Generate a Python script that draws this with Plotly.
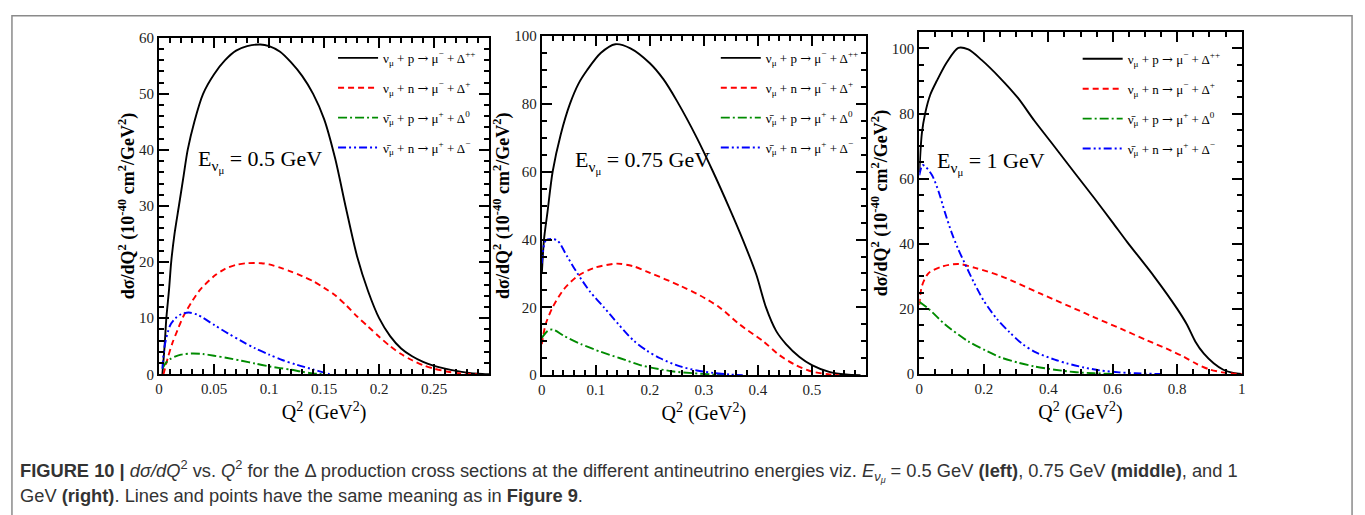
import numpy as np
import plotly.graph_objects as go

# ---------------- data: dσ/dQ² (10^-40 cm²/GeV²) vs Q² (GeV²) ----------------
# E = 0.5 GeV
q_pp_05 = [0.003, 0.005, 0.0066, 0.009, 0.011, 0.014, 0.018, 0.022, 0.026, 0.032, 0.04, 0.05, 0.06,
           0.07, 0.08, 0.092, 0.1, 0.11, 0.12, 0.13, 0.14, 0.15, 0.16, 0.17, 0.18, 0.19, 0.2, 0.21,
           0.22, 0.23, 0.24, 0.25, 0.26, 0.27, 0.28, 0.29, 0.3]
s_pp_05 = [0, 5, 10, 15, 20, 25, 30, 35, 40, 45, 50, 53.5, 56, 57.7, 58.5, 58.8, 58.5, 57.5, 55.6,
           53.2, 50, 45.5, 38.5, 29.5, 21, 14.8, 10, 6.8, 4.6, 3.2, 2.2, 1.5, 1.0, 0.6, 0.3, 0.1, 0]
q_np_05 = [0.004, 0.008, 0.012, 0.017, 0.022, 0.03, 0.037, 0.05, 0.06, 0.07, 0.08, 0.093, 0.1, 0.11,
           0.12, 0.13, 0.14, 0.15, 0.16, 0.17, 0.18, 0.19, 0.2, 0.21, 0.22, 0.23, 0.24, 0.25, 0.26,
           0.27, 0.28, 0.29]
s_np_05 = [0, 3, 5.5, 8, 10.3, 13, 15, 17.5, 18.8, 19.5, 19.8, 19.8, 19.6, 19, 18.3, 17.5, 16.6,
           15.4, 14.1, 12.3, 10.3, 8.5, 6.7, 5.0, 3.6, 2.5, 1.6, 1.0, 0.55, 0.25, 0.08, 0]
q_ap_05 = [0.003, 0.006, 0.01, 0.015, 0.02, 0.03, 0.04, 0.05, 0.062, 0.075, 0.0875, 0.1, 0.11, 0.12,
           0.13, 0.14, 0.15]
s_ap_05 = [1, 2, 2.7, 3.2, 3.5, 3.7, 3.6, 3.3, 2.9, 2.4, 1.9, 1.4, 1.1, 0.8, 0.45, 0.15, 0]
q_an_05 = [0.003, 0.005, 0.01, 0.015, 0.02, 0.027, 0.035, 0.05, 0.0625, 0.075, 0.0875, 0.1, 0.1125,
           0.125, 0.14, 0.15, 0.155]
s_an_05 = [1, 5, 8.7, 10, 10.7, 11, 10.6, 8.8, 7.3, 5.9, 4.6, 3.5, 2.5, 1.7, 0.86, 0.3, 0]

# E = 0.75 GeV
q_pp_075 = [0, 0.004, 0.0104, 0.02, 0.035, 0.052, 0.068, 0.084, 0.109, 0.136, 0.164, 0.2, 0.225,
            0.25, 0.287, 0.317, 0.348, 0.372, 0.397, 0.415, 0.434, 0.452, 0.477, 0.5, 0.532, 0.563,
            0.59]
s_pp_075 = [30, 40, 48, 60, 71, 80, 86, 90, 95, 97.6, 96.4, 92, 87.3, 80.9, 70, 60, 49, 40, 29.7,
            20, 13, 9.2, 5.4, 3, 1, 0.2, 0]
q_np_075 = [0, 0.007, 0.02, 0.041, 0.066, 0.096, 0.139, 0.17, 0.2, 0.256, 0.293, 0.329, 0.366,
            0.41, 0.44, 0.47, 0.5, 0.53, 0.55]
s_np_075 = [9.2, 15, 20, 25.4, 29.2, 31.6, 32.9, 32.1, 30.2, 26.4, 23.5, 20, 15, 10, 5.9, 3, 1.1,
            0.3, 0]
q_ap_075 = [0, 0.0104, 0.02, 0.041, 0.072, 0.109, 0.145, 0.182, 0.207, 0.244, 0.28, 0.317, 0.34]
s_ap_075 = [11, 13, 13.5, 11.6, 9.2, 6.9, 5, 3, 2.1, 1.1, 0.6, 0.2, 0]
q_an_075 = [0, 0.007, 0.017, 0.029, 0.047, 0.066, 0.09, 0.115, 0.142, 0.17, 0.194, 0.219, 0.256,
            0.287, 0.317, 0.348, 0.372]
s_an_075 = [33, 39.7, 40.2, 39.7, 35, 30, 24.5, 20, 15, 10.2, 7.3, 5, 2.6, 1.4, 0.7, 0.2, 0]

# E = 1 GeV
q_pp_1 = [0, 0.008, 0.018, 0.034, 0.054, 0.085, 0.121, 0.152, 0.193, 0.25, 0.306, 0.357, 0.419,
          0.481, 0.543, 0.6, 0.645, 0.728, 0.8, 0.83, 0.856, 0.882, 0.913, 0.943, 0.974, 1.0]
s_pp_1 = [62, 74, 80, 85.8, 90, 95.7, 100.2, 99.7, 96.5, 91, 84.8, 77.8, 69.9, 61.9, 54, 46.5,
          40.5, 30, 20, 15.2, 10, 6.3, 3.3, 1.3, 0.3, 0]
q_np_1 = [0, 0.008, 0.029, 0.07, 0.121, 0.173, 0.255, 0.378, 0.5, 0.543, 0.625, 0.707, 0.78, 0.82,
          0.86, 0.9, 0.94, 0.97, 1.0]
s_np_1 = [21.2, 27, 31, 33, 33.8, 32.6, 30, 24.6, 19.3, 17.4, 13.9, 10.3, 7.2, 5.3, 3.1, 1.4, 0.5,
          0.15, 0]
q_ap_1 = [0, 0.029, 0.08, 0.152, 0.204, 0.255, 0.306, 0.358, 0.42, 0.48, 0.543, 0.6]
s_ap_1 = [22.2, 20, 15.2, 10, 7.3, 5, 3.5, 2.3, 1.3, 0.6, 0.2, 0]
q_an_1 = [0, 0.01, 0.02, 0.04, 0.06, 0.08, 0.1, 0.12, 0.14, 0.17, 0.2, 0.24, 0.28, 0.32, 0.36, 0.42,
          0.46, 0.51, 0.56, 0.62, 0.67, 0.75]
s_an_1 = [61, 64.2, 63.6, 61, 56, 49.5, 43.5, 38.5, 34.2, 28, 22.5, 17, 12.8, 9.2, 6.7, 4.4, 3.2,
          2.0, 1.1, 0.5, 0.2, 0]

energies = ["0.5", "0.75", "1"]
ARROW = '<span style="font-family:DejaVu Serif">→</span>'
reaction_labels = [
    f"ν<sub>μ</sub> + p {ARROW} μ<sup>−</sup> + Δ<sup>++</sup>",
    f"ν<sub>μ</sub> + n {ARROW} μ<sup>−</sup> + Δ<sup>+</sup>",
    f"ν̄<sub>μ</sub> + p {ARROW} μ<sup>+</sup> + Δ<sup>0</sup>",
    f"ν̄<sub>μ</sub> + n {ARROW} μ<sup>+</sup> + Δ<sup>−</sup>",
]
line_colors = ["#000000", "#ff0000", "#008b00", "#0000ff"]
line_dashes = ["solid", "6px,4px", "9px,3px,2px,3px", "8px,3px,2px,3px,2px,3px"]

panels = [
    [(q_pp_05, s_pp_05), (q_np_05, s_np_05), (q_ap_05, s_ap_05), (q_an_05, s_an_05)],
    [(q_pp_075, s_pp_075), (q_np_075, s_np_075), (q_ap_075, s_ap_075), (q_an_075, s_an_075)],
    [(q_pp_1, s_pp_1), (q_np_1, s_np_1), (q_ap_1, s_ap_1), (q_an_1, s_an_1)],
]

x_ranges = [[0, 0.3], [0, 0.6], [0, 1.0]]
x_ticks = [[0, 0.05, 0.1, 0.15, 0.2, 0.25], [0, 0.1, 0.2, 0.3, 0.4, 0.5], [0, 0.2, 0.4, 0.6, 0.8, 1.0]]
x_ticktext = [["0", "0.05", "0.1", "0.15", "0.2", "0.25"], ["0", "0.1", "0.2", "0.3", "0.4", "0.5"],
              ["0", "0.2", "0.4", "0.6", "0.8", "1"]]
x_minor = [0.01, 0.02, 0.05]
y_ranges = [[0, 60], [0, 100], [0, 105]]
y_ticks = [[0, 10, 20, 30, 40, 50, 60], [0, 20, 40, 60, 80, 100], [0, 20, 40, 60, 80, 100]]
y_minor = [2, 5, 5]
label_pos = [(0.092, 38), (0.186, 63), (0.222, 64.8)]

# ---------------- layout geometry (paper fractions) ----------------
W, H = 1365, 515
x_domains = [[156 / W, 488 / W], [541 / W, 867 / W], [920.7 / W, 1245 / W]]
y_domains = [[1 - 378 / H, 1 - 30.7 / H], [1 - 379 / H, 1 - 29 / H], [1 - 377.7 / H, 1 - 25 / H]]
legend_xy = [(331 / W, 1 - 36 / H), (716 / W, 1 - 36 / H), (1080 / W, 1 - 37 / H)]

SERIF = "Liberation Serif"
fig = go.Figure()

for p, curves in enumerate(panels):
    sfx = "" if p == 0 else str(p + 1)
    leg = "legend" + sfx
    for k, (q, s) in enumerate(curves):
        fig.add_trace(go.Scatter(
            x=q, y=s, mode="lines", name=reaction_labels[k],
            line=dict(color=line_colors[k], dash=line_dashes[k], width=1.9,
                      shape="spline", smoothing=0.8),
            xaxis="x" + sfx, yaxis="y" + sfx, legend=leg, legendgroup=f"g{p}{k}",
        ))

    axis_common = dict(
        showline=True, linecolor="black", linewidth=2, mirror="ticks",
        ticks="inside", ticklen=10, tickwidth=1.5, tickcolor="black",
        showgrid=False, zeroline=False,
        tickfont=dict(family=SERIF, size=15, color="#222222"),
    )
    fig.update_layout({
        "xaxis" + sfx: dict(
            axis_common, domain=x_domains[p], range=x_ranges[p], anchor="y" + sfx,
            tickmode="array", tickvals=x_ticks[p], ticktext=x_ticktext[p],
            minor=dict(dtick=x_minor[p], tick0=0, ticks="inside", ticklen=5, tickwidth=1.5,
                       tickcolor="black", showgrid=False),
            title=dict(text="Q<sup>2</sup> (GeV<sup>2</sup>)", standoff=9,
                       font=dict(family=SERIF, size=20, color="black")),
        ),
        "yaxis" + sfx: dict(
            axis_common, domain=y_domains[p], range=y_ranges[p], anchor="x" + sfx,
            tickmode="array", tickvals=y_ticks[p], ticktext=[str(v) for v in y_ticks[p]],
            minor=dict(dtick=y_minor[p], tick0=0, ticks="inside", ticklen=5, tickwidth=1.5,
                       tickcolor="black", showgrid=False),
            title=dict(text="<b>dσ/dQ<sup>2</sup> (10<sup>-40</sup> cm<sup>2</sup>/GeV<sup>2</sup>)</b>",
                       standoff=0, font=dict(family=SERIF, size=18, color="black")),
        ),
        leg: dict(
            x=legend_xy[p][0], y=legend_xy[p][1], xanchor="left", yanchor="top",
            bgcolor="rgba(0,0,0,0)", borderwidth=0, tracegroupgap=10,
            font=dict(family=SERIF, size=13, color="black"), itemwidth=40,
        ),
    })
    fig.add_annotation(
        x=label_pos[p][0], y=label_pos[p][1], xref="x" + sfx, yref="y" + sfx,
        text=f"E<sub>ν<sub>μ</sub></sub> = {energies[p]} GeV", showarrow=False,
        font=dict(family=SERIF, size=22, color="black"),
    )

# caption
CAP = "Liberation Sans"
caption_lines = [
    "<b>FIGURE 10 |</b> <i>dσ/dQ</i><sup>2</sup> vs. <i>Q</i><sup>2</sup> for the Δ production cross "
    "sections at the different antineutrino energies viz. <i>E<sub>ν<sub>μ</sub></sub></i> = 0.5 GeV "
    "<b>(left)</b>, 0.75 GeV <b>(middle)</b>, and 1",
    "GeV <b>(right)</b>. Lines and points have the same meaning as in <b>Figure 9</b>.",
]
for i, (txt, yc) in enumerate(zip(caption_lines, [478, 503])):
    fig.add_annotation(
        x=14 / W, y=1 - yc / H, xref="paper", yref="paper", xanchor="left", yanchor="middle",
        text=txt, showarrow=False, font=dict(family=CAP, size=18.3, color="#333333"), align="left",
    )

# frame around the figure
fig.add_shape(type="rect", xref="paper", yref="paper", x0=8 / W, x1=1356 / W, y0=-0.05, y1=1 - 8 / H,
              line=dict(color="#8a8a8a", width=1.5))

fig.update_layout(
    width=W, height=H, margin=dict(l=0, r=0, t=0, b=0),
    paper_bgcolor="white", plot_bgcolor="white", showlegend=True,
)

fig.write_html("out.html")
